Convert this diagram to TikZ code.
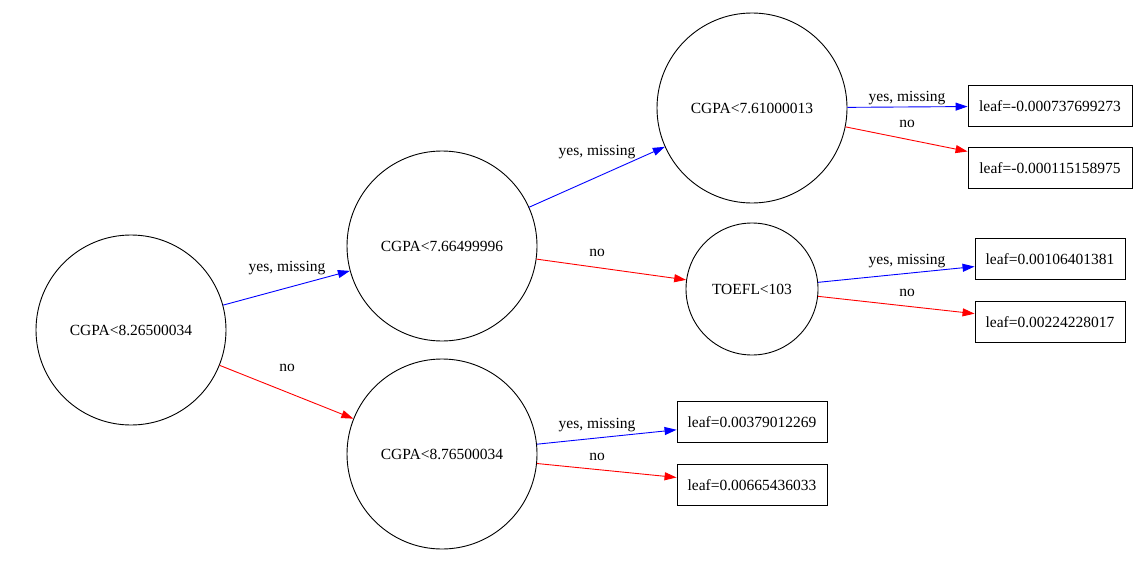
\documentclass[tikz,border=0pt]{standalone}
\usepackage{fontspec}
\setmainfont{Liberation Serif}
\usetikzlibrary{arrows.meta}
\begin{document}
\begin{tikzpicture}[x=1pt,y=-1pt,
  every node/.style={font=\fontsize{15.5}{18}\selectfont},
  split/.style={circle,draw=black,line width=0.9pt,inner sep=0pt,minimum size=190pt},
  smallsplit/.style={circle,draw=black,line width=0.9pt,inner sep=0pt,minimum size=132pt},
  leafbox/.style={rectangle,draw=black,line width=0.9pt,inner xsep=8pt,minimum height=41pt},
  yesedge/.style={draw=blue,line width=0.9pt,-{Triangle[length=12pt,width=8pt]}},
  noedge/.style={draw=red,line width=0.9pt,-{Triangle[length=12pt,width=8pt]}},
  elabel/.style={inner sep=1pt}]
\useasboundingbox (0,0) rectangle (1147,578);
\node[split] (n0) at (131,330) {CGPA<8.26500034};
\node[split] (n1) at (442,246) {CGPA<7.66499996};
\node[split] (n2) at (442,454) {CGPA<8.76500034};
\node[split] (n3) at (752,108) {CGPA<7.61000013};
\node[smallsplit] (n4) at (752,289) {TOEFL<103};
\node[leafbox,minimum width=164pt] (l1) at (1050,106) {leaf=-0.000737699273};
\node[leafbox,minimum width=164pt] (l2) at (1050,168) {leaf=-0.000115158975};
\node[leafbox,minimum width=150pt] (l3) at (1050,259) {leaf=0.00106401381};
\node[leafbox,minimum width=150pt] (l4) at (1050,322) {leaf=0.00224228017};
\node[leafbox,minimum width=150pt] (l5) at (752,422) {leaf=0.00379012269};
\node[leafbox,minimum width=150pt] (l6) at (752,485) {leaf=0.00665436033};
\draw[yesedge] (n0) -- (n1);
\draw[noedge] (n0) -- (n2);
\draw[yesedge] (n1) -- (n3);
\draw[noedge] (n1) -- (n4);
\draw[yesedge] (n3) -- (l1);
\draw[noedge] (n3) -- (l2);
\draw[yesedge] (n4) -- (l3);
\draw[noedge] (n4) -- (l4);
\draw[yesedge] (n2) -- (l5);
\draw[noedge] (n2) -- (l6);
\node[elabel] (t01) at (287,268) {yes, missing};
\node[elabel] (t02) at (287,368) {no};
\node[elabel] (t13) at (597,152) {yes, missing};
\node[elabel] (t14) at (597,253) {no};
\node[elabel] (t31) at (907,98) {yes, missing};
\node[elabel] (t32) at (907,124) {no};
\node[elabel] (t43) at (907,261) {yes, missing};
\node[elabel] (t44) at (907,293) {no};
\node[elabel] (t25) at (597,425) {yes, missing};
\node[elabel] (t26) at (597,457) {no};
\end{tikzpicture}
\end{document}
